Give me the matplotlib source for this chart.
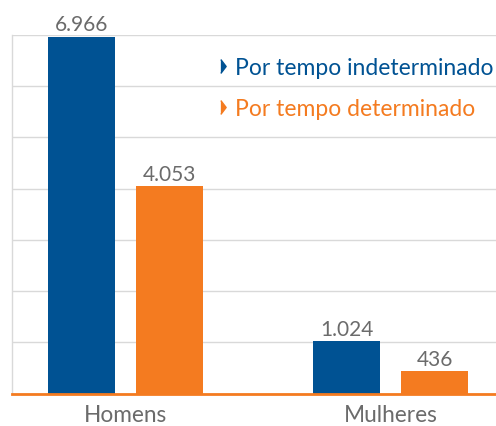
import matplotlib
matplotlib.use("Agg")
import matplotlib.pyplot as plt
import numpy as np

categories = ["Homens", "Mulheres"]
series_names = ["Por tempo indeterminado", "Por tempo determinado"]
indeterminado = [6966, 1024]
determinado = [4053, 436]
value_labels_ind = ["6.966", "1.024"]
value_labels_det = ["4.053", "436"]

BLUE = "#005293"
ORANGE = "#F47B20"
GRAY_TXT = "#6b6b6b"
GRID = "#d9d9d9"

plt.rcParams['font.family'] = ['Lato', 'DejaVu Sans']

fig = plt.figure(figsize=(4.96, 4.27), dpi=100)
ax = fig.add_axes([12/496, (427-394.5)/427, 1 - 12/496, (394.5-36)/427])

x = np.arange(len(categories))
w = 0.253
off = 0.166
b1 = ax.bar(x - off, indeterminado, width=w, color=BLUE, zorder=3)
b2 = ax.bar(x + off, determinado, width=w, color=ORANGE, zorder=3)

for bars, labels in ((b1, value_labels_ind), (b2, value_labels_det)):
    for rect, lab in zip(bars, labels):
        ax.annotate(lab, (rect.get_x() + rect.get_width()/2, rect.get_height()),
                    xytext=(0, 4.5), textcoords="offset points",
                    ha="center", va="baseline", fontsize=15, color=GRAY_TXT,
                    annotation_clip=False)

ax.set_xlim(-0.428, 1.398)
ax.set_ylim(0, 7000)
ax.set_yticks(np.arange(0, 7001, 1000))
ax.yaxis.grid(True, color=GRID, linewidth=1, zorder=0)
ax.set_yticklabels([])
ax.tick_params(axis='y', length=0)
ax.set_xticks(x)
ax.set_xticklabels(categories, fontsize=16.3, color=GRAY_TXT)
ax.tick_params(axis='x', length=0, pad=7.5)

for s in ("top", "right"):
    ax.spines[s].set_visible(False)
ax.spines["left"].set_color(GRID)
ax.spines["left"].set_linewidth(1)
ax.spines["bottom"].set_color(ORANGE)
ax.spines["bottom"].set_linewidth(2)
ax.spines["bottom"].set_zorder(4)

# legend
tri = [(-0.38, -1), (0.38, 0), (-0.38, 1)]
leg_colors = [BLUE, ORANGE]
leg_y = [67, 107.5]
for name, col, yy in zip(series_names, leg_colors, leg_y):
    fy = 1 - yy/427
    fig.lines.append(plt.Line2D([223/496], [fy], marker=tri, markersize=10,
                                color=col, linestyle="none", transform=fig.transFigure))
    fig.text(235/496, fy, name, fontsize=16.5, color=col, ha="left", va="center_baseline")

fig.savefig("out.png", dpi=100)
